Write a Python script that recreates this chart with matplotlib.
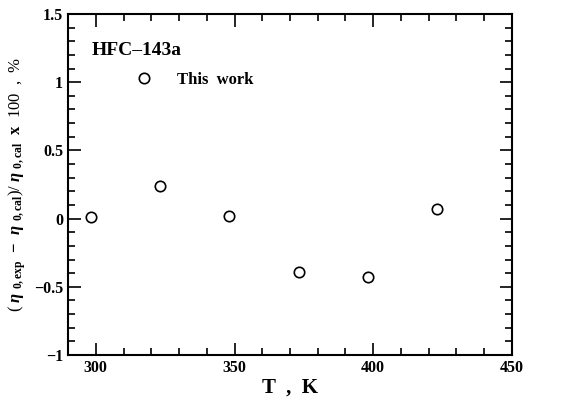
import matplotlib
matplotlib.use("Agg")
import matplotlib.pyplot as plt
from matplotlib.ticker import MultipleLocator

# data
temps = [298.15, 323.15, 348.15, 373.15, 398.15, 423.15]
dev = [0.01, 0.24, 0.02, -0.39, -0.43, 0.07]

x_ticks = [300, 350, 400, 450]
y_ticks = [-1, -0.5, 0, 0.5, 1, 1.5]
y_tick_labels = ["\u22121", "\u22120.5", "0", "0.5", "1", "1.5"]

plt.rcParams["font.family"] = "Liberation Serif"
plt.rcParams["font.weight"] = "bold"
plt.rcParams["mathtext.fontset"] = "custom"
plt.rcParams["mathtext.rm"] = "Liberation Serif:bold"
plt.rcParams["mathtext.it"] = "Liberation Serif:italic:bold"
plt.rcParams["mathtext.bf"] = "Liberation Serif:bold"

fig = plt.figure(figsize=(5.63, 3.99), dpi=100)
ax = fig.add_axes([0.1208, 0.1103, 0.7886, 0.8546])

ax.plot(temps, dev, linestyle="none", marker="o", markersize=7.5,
        markerfacecolor="white", markeredgecolor="black", markeredgewidth=1.2)

ax.set_xlim(290, 450)
ax.set_ylim(-1, 1.5)
ax.set_xticks(x_ticks)
ax.set_yticks(y_ticks)
ax.set_yticklabels(y_tick_labels)
ax.xaxis.set_minor_locator(MultipleLocator(10))
ax.yaxis.set_minor_locator(MultipleLocator(0.1))
ax.tick_params(which="both", direction="in", top=True, right=True,
               labelsize=11.5, width=1.2)
ax.tick_params(which="major", length=9)
ax.tick_params(which="minor", length=5)
for s in ax.spines.values():
    s.set_linewidth(1.5)

ax.set_xlabel("T  ,  K", fontsize=15, fontweight="bold", labelpad=1)
ax.set_ylabel(r"( $\eta$ $_{\rm 0,exp}$  $-$  $\eta$ $_{\rm 0,cal}$)/ $\eta$ $_{\rm 0,cal}$  $\rm x$  100  ,  %",
              fontsize=12, labelpad=4)

ax.text(0.053, 0.892, "HFC\u2013143a", transform=ax.transAxes, fontsize=14,
        fontweight="bold", va="center")
ax.plot([317.5], [1.03], linestyle="none", marker="o", markersize=7.5,
        markerfacecolor="white", markeredgecolor="black", markeredgewidth=1.2)
ax.text(0.245, 0.806, "This  work", transform=ax.transAxes, fontsize=12,
        fontweight="bold", va="center")

fig.savefig("out.png", dpi=100)
